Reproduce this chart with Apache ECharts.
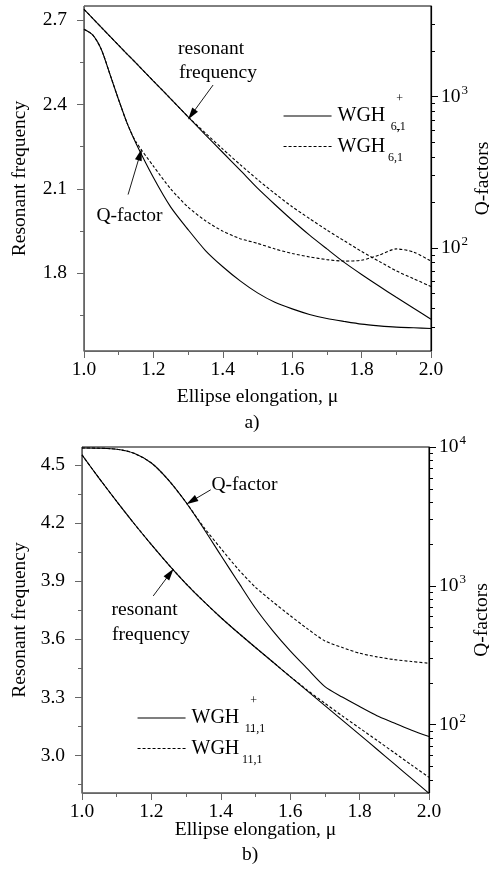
<!DOCTYPE html>
<html><head><meta charset="utf-8">
<script src="https://cdn.jsdelivr.net/npm/echarts@6/dist/echarts.min.js"></script>
<style>html,body{margin:0;padding:0;background:#fff}#c{width:489px;height:872px}</style>
</head><body><div id="c"></div>
<script>
// ---------- data: panel a (WGH 6,1) ----------
const muA = [1.0,1.025,1.05,1.075,1.1,1.125,1.15,1.2,1.25,1.3,1.35,1.4,1.45,1.5,1.55,1.6,1.65,1.7,1.75,1.8,1.85,1.9,1.95,2.0];
const freqPlusA  = [2.738,2.706,2.674,2.642,2.610,2.578,2.547,2.483,2.420,2.356,2.292,2.229,2.166,2.102,2.044,1.988,1.935,1.886,1.838,1.795,1.754,1.714,1.675,1.636];
const freqMinusA = [2.738,2.706,2.674,2.642,2.610,2.578,2.547,2.483,2.420,2.356,2.298,2.241,2.186,2.133,2.083,2.036,1.994,1.953,1.915,1.877,1.842,1.808,1.780,1.752];
const qPlusA  = [2790,2560,2050,1400,950,660,490,292,186,132,96,75,60.5,50.4,43.7,39.5,36.3,34.1,32.6,31.3,30.5,29.9,29.6,29.3];
const qMinusA = [2790,2560,2050,1400,950,660,501,347,245,186,151,129,115,107,98.4,91.8,87.1,83.6,81.7,82.8,89.5,98.4,93.8,81.7];
// ---------- data: panel b (WGH 11,1) ----------
const muB = [1.0,1.05,1.1,1.15,1.2,1.25,1.3,1.35,1.4,1.45,1.5,1.55,1.6,1.65,1.7,1.75,1.8,1.85,1.9,1.95,2.0];
const freqPlusB  = [4.552,4.430,4.312,4.198,4.089,3.985,3.887,3.797,3.713,3.634,3.558,3.483,3.408,3.333,3.258,3.183,3.108,3.033,2.957,2.881,2.805];
const freqMinusB = [4.552,4.430,4.312,4.198,4.089,3.985,3.887,3.797,3.713,3.634,3.558,3.483,3.408,3.337,3.270,3.205,3.142,3.079,3.015,2.951,2.888];
const qPlusB  = [9840,9800,9640,9016,7674,5754,3981,2600,1660,1067,689,474,340,252,188,158,135,116,103,91.2,82.2];
const qMinusB = [9840,9800,9640,9016,7674,5754,3981,2660,1862,1318,977,767,610,490,401,360,327,308,294,285,277];
// ---------- ticks ----------
const freqLabelsA = [1.8,2.1,2.4,2.7];
const freqMinorA  = [1.65,1.95,2.25,2.55];
const qMajorA = [100,1000];
const qMinorA = [30,40,50,60,70,80,90,200,300,400,500,600,700,800,900,2000,3000];
const freqLabelsB = [3.0,3.3,3.6,3.9,4.2,4.5];
const freqMinorB  = [2.85,3.15,3.45,3.75,4.05,4.35];
const qMajorB = [100,1000,10000];
const qMinorB = [40,50,60,70,80,90,200,300,400,500,600,700,800,900,2000,3000,4000,5000,6000,7000,8000,9000];
// annotation arrows [from, to] in data coords
const arrowFreqA = [[1.372,2.469],[1.310,2.364]];
const arrowQA    = [[1.127,225],[1.1615,414]];
const arrowQB    = [[1.371,4920],[1.3156,4074]];
const arrowFreqB = [[1.2052,3.824],[1.2536,3.940]];

const FONT = 'Liberation Serif';
const FS = 19.5;
const BLACK = '#000';
const GRAY = '#666';
const tStyle = {fontFamily: FONT, fontSize: FS, color: BLACK};

function xAxisFor(gi, gap) {
  return {
    type: 'value', gridIndex: gi, min: 1, max: 2, interval: 0.2,
    name: 'Ellipse elongation, \u03bc', nameLocation: 'middle', nameGap: gap, nameMoveOverlap: false,
    nameTextStyle: tStyle,
    axisLine: {show: true, onZero: false, lineStyle: {color: GRAY, width: 1}},
    axisTick: {show: true, inside: false, length: 7, lineStyle: {color: GRAY}},
    minorTick: {show: true, splitNumber: 2, length: 4, lineStyle: {color: GRAY}},
    axisLabel: Object.assign({margin: 9, formatter: v => v.toFixed(1)}, tStyle),
    splitLine: {show: false}, minorSplitLine: {show: false}
  };
}
function leftMajor(gi, min, max, labels, gap) {
  return {
    type: 'value', gridIndex: gi, position: 'left', min, max,
    name: 'Resonant frequency', nameLocation: 'middle', nameGap: gap, nameRotate: 90, nameMoveOverlap: false,
    nameTextStyle: tStyle,
    axisLine: {show: true, onZero: false, lineStyle: {color: GRAY}},
    axisTick: {show: true, inside: false, length: 7, customValues: labels, lineStyle: {color: GRAY}},
    axisLabel: Object.assign({margin: 17, customValues: labels, formatter: v => v.toFixed(1)}, tStyle),
    splitLine: {show: false}
  };
}
function leftMinor(gi, min, max, ticks) {
  return {
    type: 'value', gridIndex: gi, position: 'left', min, max,
    axisLine: {show: false},
    axisTick: {show: true, inside: false, length: 4, customValues: ticks, lineStyle: {color: GRAY}},
    axisLabel: {show: false}, splitLine: {show: false}
  };
}
function rightMajor(gi, min, max, vals, gap) {
  return {
    type: 'log', logBase: 10, gridIndex: gi, position: 'right', min, max,
    name: 'Q-factors', nameLocation: 'middle', nameGap: gap, nameRotate: 90, nameMoveOverlap: false,
    nameTextStyle: tStyle,
    axisLine: {show: true, onZero: false, lineStyle: {color: BLACK, width: 1.2}},
    axisTick: {show: true, inside: false, length: 7, customValues: vals, lineStyle: {color: BLACK}},
    axisLabel: {
      margin: 10, customValues: vals,
      formatter: v => '{m|10}{s|' + Math.round(Math.log10(v)) + '}',
      rich: {
        m: {fontFamily: FONT, fontSize: FS, color: BLACK},
        s: {fontFamily: FONT, fontSize: 13, color: BLACK, padding: [0, 0, 12, 1]}
      }
    },
    splitLine: {show: false}
  };
}
function rightMinor(gi, min, max, ticks) {
  return {
    type: 'log', logBase: 10, gridIndex: gi, position: 'right', min, max,
    axisLine: {show: false},
    axisTick: {show: true, inside: false, length: 4, customValues: ticks, lineStyle: {color: BLACK}},
    axisLabel: {show: false}, splitLine: {show: false}
  };
}
const HEAD = 'path://M0,0 L4,12 L-4,12 Z';
function arrowML(arr) {
  return {
    silent: true, symbol: ['none', HEAD], symbolSize: [0, 12],
    lineStyle: {color: BLACK, width: 0.9, type: 'solid'},
    itemStyle: {color: BLACK, opacity: 1},
    label: {show: false}, emphasis: {disabled: true},
    data: [[{coord: arr[0]}, {coord: arr[1], symbol: HEAD, symbolSize: [7, 12], itemStyle: {color: BLACK}}]]
  };
}
function line(name, xs, ys, xi, yi, dashed, ml) {
  const s = {
    type: 'line', name, xAxisIndex: xi, yAxisIndex: yi,
    data: xs.map((x, i) => [x, ys[i]]),
    symbol: 'none', showSymbol: false, smooth: 0.25, silent: true,
    lineStyle: {color: BLACK, width: 1.1, type: dashed ? [3, 2] : 'solid'},
    itemStyle: {color: BLACK}, emphasis: {disabled: true}
  };
  if (ml) s.markLine = ml;
  return s;
}
const legendRich = {
  m: {fontFamily: FONT, fontSize: 20, lineHeight: 20, color: BLACK, padding: [0, 0, 0, 1]},
  sup: {fontFamily: FONT, fontSize: 12, lineHeight: 12, color: BLACK, padding: [0, -12.3, 34, 11]},
  sub: {fontFamily: FONT, fontSize: 12, lineHeight: 12, color: BLACK, padding: [22, 0, 0, 0]}
};
const legendText = {
  'A+': '{m|WGH}{sup|+}{sub|6,1}', 'A-': '{m|WGH}{sup|-}{sub|6,1}',
  'B+': '{m|WGH}{sup|+}{sub|11,1}', 'B-': '{m|WGH}{sup|-}{sub|11,1}'
};
function legendFor(names, left, top) {
  return {
    orient: 'vertical', left, top, padding: 0, itemGap: -15.5,
    itemWidth: 48, itemHeight: 2, selectedMode: false,
    data: names, formatter: n => legendText[n],
    itemStyle: {opacity: 0},
    lineStyle: {width: 1.1},
    textStyle: {fontFamily: FONT, color: BLACK, rich: legendRich}
  };
}
const minA = 1.523, maxA = 2.75, qminA = 20.8, qmaxA = 3970;
const minB = 2.807, maxB = 4.593, qminB = 32.2, qmaxB = 10000;
function txt(x, y, s, align) {
  return {type: 'text', x, y, silent: true,
    style: {text: s, font: FS + 'px "' + FONT + '"', fill: BLACK, textAlign: align || 'left', textVerticalAlign: 'middle'}};
}
const gridBase = {show: true, borderColor: BLACK, borderWidth: 1, backgroundColor: 'transparent', containLabel: false, outerBoundsMode: 'none'};
const option = {
  animation: false,
  backgroundColor: '#fff',
  grid: [
    Object.assign({left: 84, right: 58, top: 6, bottom: 521}, gridBase),
    Object.assign({left: 82, right: 60, top: 447, bottom: 79}, gridBase)
  ],
  xAxis: [xAxisFor(0, 36), xAxisFor(1, 27)],
  yAxis: [
    leftMajor(0, minA, maxA, freqLabelsA, 54),
    leftMinor(0, minA, maxA, freqMinorA),
    rightMajor(0, qminA, qmaxA, qMajorA, 41.5),
    rightMinor(0, qminA, qmaxA, qMinorA),
    leftMajor(1, minB, maxB, freqLabelsB, 52),
    leftMinor(1, minB, maxB, freqMinorB),
    rightMajor(1, qminB, qmaxB, qMajorB, 43),
    rightMinor(1, qminB, qmaxB, qMinorB)
  ],
  legend: [legendFor(['A+', 'A-'], 283, 93), legendFor(['B+', 'B-'], 137, 695)],
  series: [
    line('A+', muA, freqPlusA, 0, 0, false, arrowML(arrowFreqA)),
    line('A-', muA, freqMinusA, 0, 0, true),
    line('A+', muA, qPlusA, 0, 2, false, arrowML(arrowQA)),
    line('A-', muA, qMinusA, 0, 2, true),
    line('B+', muB, freqPlusB, 1, 4, false, arrowML(arrowFreqB)),
    line('B-', muB, freqMinusB, 1, 4, true),
    line('B+', muB, qPlusB, 1, 6, false, arrowML(arrowQB)),
    line('B-', muB, qMinusB, 1, 6, true)
  ],
  graphic: [
    txt(178, 49, 'resonant'), txt(179, 72.5, 'frequency'), txt(96.5, 215.5, 'Q-factor'),
    txt(211.5, 485, 'Q-factor'), txt(111.5, 610, 'resonant'), txt(112, 635, 'frequency'),
    txt(252, 423, 'a)', 'center'), txt(250, 855, 'b)', 'center')
  ]
};
const chart = echarts.init(document.getElementById('c'));
chart.setOption(option);
</script>
</body></html>
